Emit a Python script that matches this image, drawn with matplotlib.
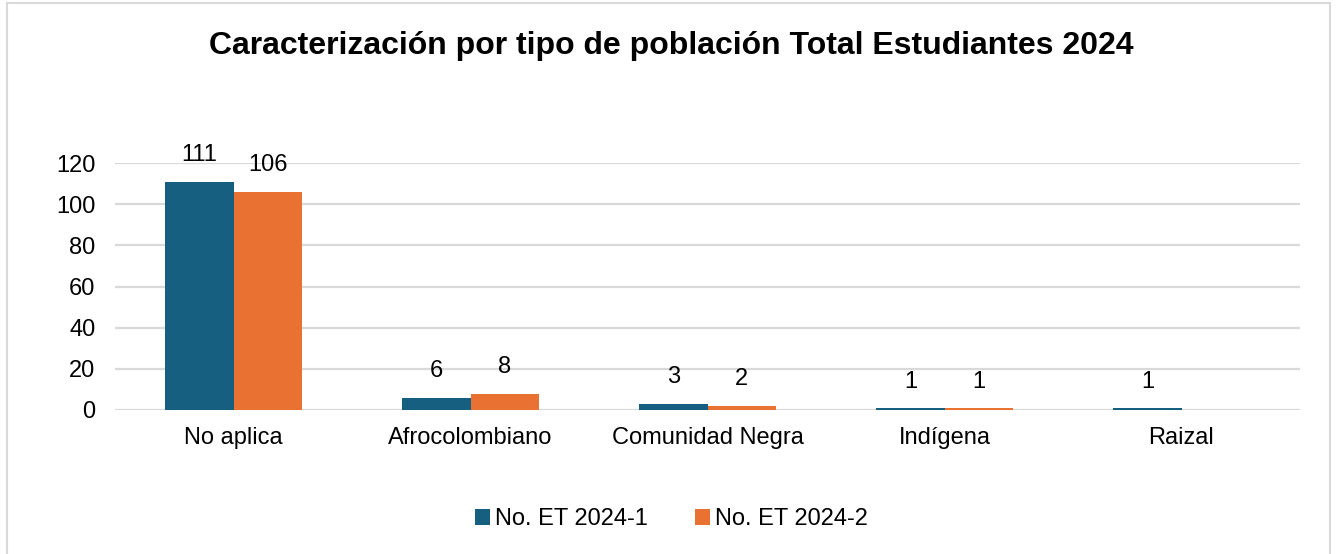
import numpy as np
import matplotlib.pyplot as plt
from matplotlib.patches import Rectangle

plt.rcParams['font.family'] = ['Liberation Sans', 'DejaVu Sans']

# --- data
categories = ['No aplica', 'Afrocolombiano', 'Comunidad Negra', 'Indígena', 'Raizal']
series_names = ['No. ET 2024-1', 'No. ET 2024-2']
et_2024_1 = [111, 6, 3, 1, 1]
et_2024_2 = [106, 8, 2, 1, np.nan]
yticks = [0, 20, 40, 60, 80, 100, 120]

BLUE = '#175F80'
ORANGE = '#E97132'
GRID = '#D9D9D9'
FS = 17

fig = plt.figure(figsize=(13.43, 5.54), dpi=100)
W, H = 1343, 554
ax = fig.add_axes([115 / W, 1 - 410 / H, 1185 / W, 247 / H])

x = np.arange(len(categories))
bw = 0.287
b1 = ax.bar(x - bw / 2, et_2024_1, bw, color=BLUE, label=series_names[0], zorder=3)
b2 = ax.bar(x + bw / 2, et_2024_2, bw, color=ORANGE, label=series_names[1], zorder=3)

for bars, vals in ((b1, et_2024_1), (b2, et_2024_2)):
    for rect, v in zip(bars, vals):
        if np.isnan(v):
            continue
        ax.annotate(f'{v:g}', (rect.get_x() + rect.get_width() / 2, v),
                    xytext=(0, 19), textcoords='offset points',
                    ha='center', va='center', fontsize=FS, color='#000000',
                    annotation_clip=False, zorder=5)

ax.set_xlim(-0.5, len(categories) - 0.5)
ax.set_ylim(0, 120)
ax.set_yticks(yticks)
ax.set_xticks(x)
ax.set_xticklabels(categories)
ax.tick_params(axis='both', length=0, labelsize=FS, colors='#000000')
ax.tick_params(axis='x', pad=12)
ax.tick_params(axis='y', pad=14)
ax.yaxis.grid(True, color=GRID, linewidth=1.6, zorder=0)
ax.set_axisbelow(True)
for s in ax.spines.values():
    s.set_visible(False)

fig.text(0.5, 1 - 46 / H, 'Caracterización por tipo de población Total Estudiantes 2024',
         ha='center', va='center', fontsize=23, fontweight='bold')

fig.legend(handles=[b1, b2], loc='center', bbox_to_anchor=(0.5, 1 - 519 / H),
           ncol=2, frameon=False, fontsize=FS, handlelength=0.65, handleheight=0.65,
           handletextpad=0.2, columnspacing=2.0)

fig.patches.append(Rectangle((7 / W, -0.01), 1323 / W, 1 - 3 / H + 0.01,
                             transform=fig.transFigure, fill=False,
                             edgecolor='#D9D9D9', linewidth=1.5))

fig.savefig('out.png', dpi=100)
